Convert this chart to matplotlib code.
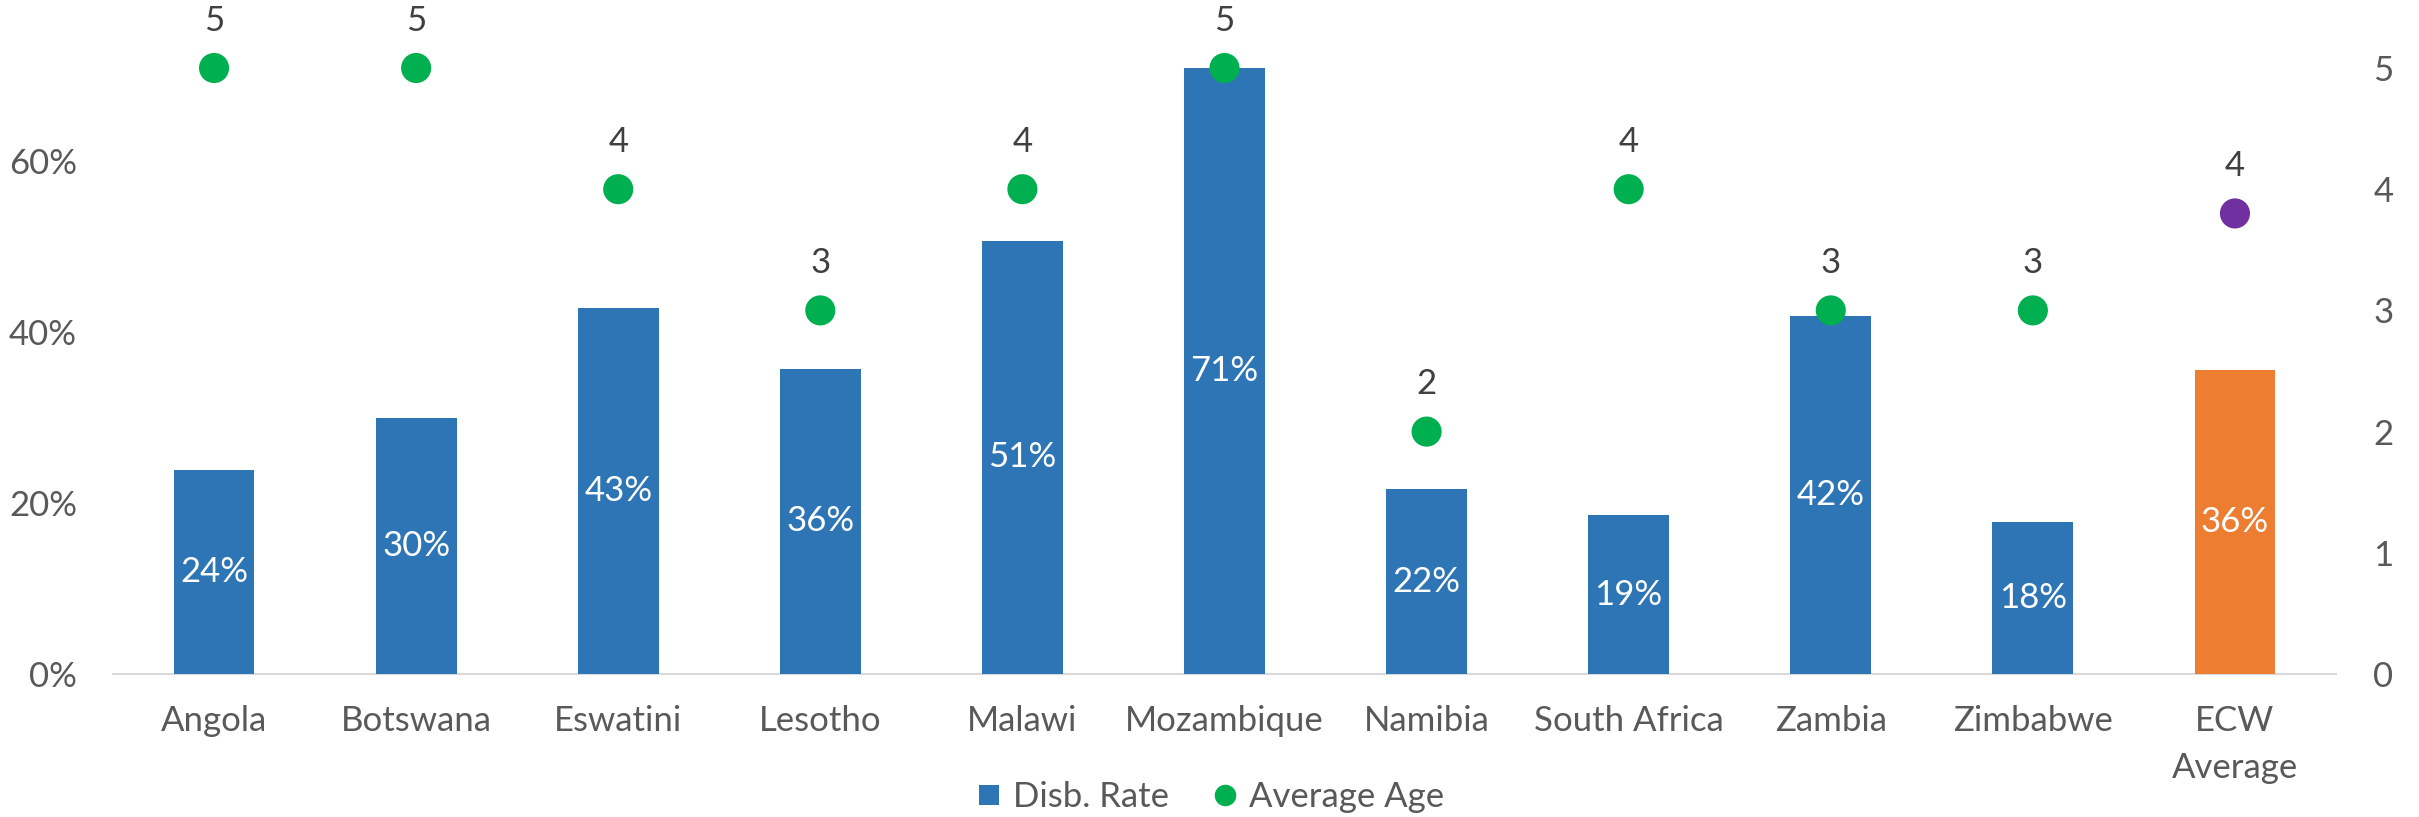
import matplotlib
matplotlib.use("Agg")
import matplotlib.pyplot as plt
from matplotlib.lines import Line2D
import numpy as np

plt.rcParams['font.family'] = ['Lato', 'DejaVu Sans']

categories = ['Angola', 'Botswana', 'Eswatini', 'Lesotho', 'Malawi', 'Mozambique',
              'Namibia', 'South Africa', 'Zambia', 'Zimbabwe', 'ECW\nAverage']
disb_rate = [0.239, 0.299, 0.428, 0.357, 0.507, 0.709, 0.216, 0.186, 0.419, 0.178, 0.356]
average_age = [5, 5, 4, 3, 4, 5, 2, 4, 3, 3, 3.8]
left_ticks = [0, 0.2, 0.4, 0.6]
right_ticks = [0, 1, 2, 3, 4, 5]

BLUE = '#2E75B6'
ORANGE = '#ED7D31'
GREEN = '#00B050'
PURPLE = '#7030A0'
GREY = '#595959'
DARK = '#404040'
FS = 25

W, H = 2419, 817
fig = plt.figure(figsize=(W / 100, H / 100), dpi=100)
ax = fig.add_axes([113 / W, 1 - 674 / H, (2336 - 113) / W, (674 - 68) / H])
ax2 = ax.twinx()

x = np.arange(len(categories))
bar_colors = [BLUE] * (len(categories) - 1) + [ORANGE]
dot_colors = [GREEN] * (len(categories) - 1) + [PURPLE]

bars = ax.bar(x, disb_rate, width=0.40, color=bar_colors, zorder=2)
for xi, v in zip(x, disb_rate):
    ax.text(xi, v / 2, f"{round(v * 100):d}%", ha='center', va='center',
            color='white', fontsize=FS)

ax2.scatter(x, average_age, s=470, color=dot_colors, zorder=3, clip_on=False,
            linewidths=0)
for xi, v in zip(x, average_age):
    ax2.annotate(f"{round(v):d}", (xi, v), xytext=(0, 34), textcoords='offset points',
                 ha='center', va='center', color=DARK, fontsize=FS,
                 annotation_clip=False)

ax.set_xlim(-0.5, len(categories) - 0.5)
ax.set_ylim(0, 0.709)
ax2.set_ylim(0, 5)
ax.set_yticks(left_ticks)
ax.set_yticklabels([f"{int(t * 100)}%" for t in left_ticks])
ax2.set_yticks(right_ticks)
ax2.set_yticklabels([str(t) for t in right_ticks])
ax.set_xticks(x)
ax.set_xticklabels(categories, linespacing=1.6)

for a in (ax, ax2):
    for s in a.spines.values():
        s.set_visible(False)
ax.spines['bottom'].set_visible(True)
ax.spines['bottom'].set_color('#D9D9D9')
ax.spines['bottom'].set_linewidth(1.5)
ax.spines['bottom'].set_zorder(1)

ax.tick_params(axis='y', length=0, pad=26, labelsize=FS, labelcolor=GREY)
ax2.tick_params(axis='y', length=0, pad=27, labelsize=FS, labelcolor=GREY)
ax.tick_params(axis='x', length=0, pad=22, labelsize=FS, labelcolor=GREY)

handles = [
    Line2D([], [], marker='s', linestyle='none', markersize=14.4, color=BLUE,
           markeredgewidth=0),
    Line2D([], [], marker='o', linestyle='none', markersize=15.5, color=GREEN,
           markeredgewidth=0),
]
leg = fig.legend(handles, ['Disb. Rate', 'Average Age'], loc='center',
                 bbox_to_anchor=(0.5, 1 - 797 / H), ncol=2, frameon=False,
                 fontsize=FS, handlelength=0.8, handletextpad=0.3,
                 columnspacing=1.2, borderaxespad=0)
for t in leg.get_texts():
    t.set_color(GREY)

fig.savefig('out.png', dpi=100)
